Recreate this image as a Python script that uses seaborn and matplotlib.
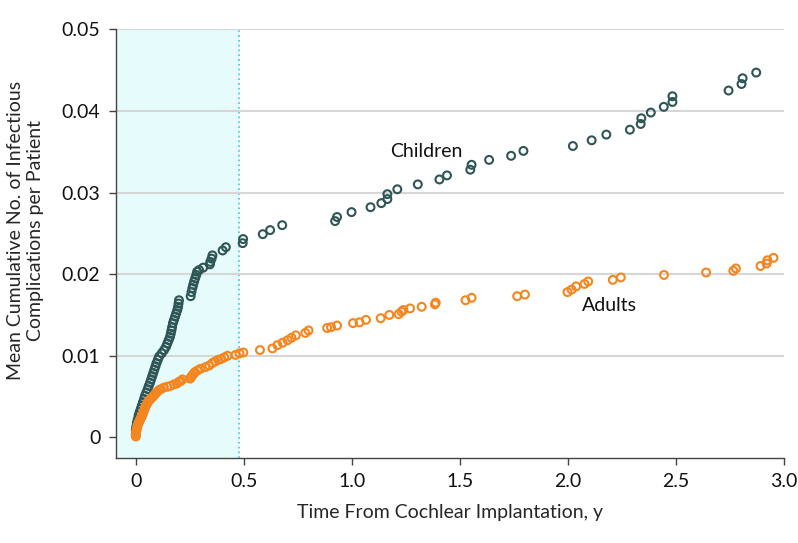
"""
Mean cumulative infectious complications after cochlear implantation
Children vs adults, first 3 years
"""

import pandas as pd
import matplotlib
matplotlib.use("Agg")
import matplotlib.pyplot as plt
import seaborn as sns

sns.set_style("ticks")
plt.rcParams['font.family'] = ['Lato', 'DejaVu Sans']
plt.rcParams['font.size'] = 14

# Children: years from implantation / mean cumulative events per patient
children_x = [0.000, 0.000, 0.002, 0.005, 0.009, 0.013, 0.018, 0.023, 0.028, 0.033,
              0.038, 0.043, 0.049, 0.055, 0.060, 0.066, 0.071, 0.076, 0.081, 0.086,
              0.091, 0.096, 0.102, 0.108, 0.120, 0.131, 0.140, 0.146, 0.152, 0.158,
              0.162, 0.165, 0.168, 0.172, 0.177, 0.182, 0.187, 0.192, 0.196, 0.198,
              0.200, 0.254, 0.258, 0.262, 0.266, 0.270, 0.275, 0.280, 0.284, 0.293,
              0.312, 0.343, 0.345, 0.351, 0.355, 0.402, 0.417, 0.495, 0.497, 0.588,
              0.622, 0.678, 0.923, 0.932, 0.999, 1.087, 1.137, 1.165, 1.165, 1.211,
              1.306, 1.406, 1.441, 1.549, 1.555, 1.636, 1.738, 1.795, 2.024, 2.111,
              2.179, 2.288, 2.338, 2.341, 2.385, 2.445, 2.485, 2.485, 2.745, 2.805,
              2.810, 2.873]
children_y = [0.0004, 0.0009, 0.0013, 0.0018, 0.0022, 0.0027, 0.0031, 0.0035, 0.0039, 0.0043,
              0.0047, 0.0051, 0.0055, 0.0059, 0.0063, 0.0067, 0.0071, 0.0075, 0.0079, 0.0083,
              0.0087, 0.0091, 0.0095, 0.0099, 0.0103, 0.0107, 0.0111, 0.0115, 0.0119, 0.0123,
              0.0127, 0.0131, 0.0135, 0.0140, 0.0144, 0.0148, 0.0152, 0.0156, 0.0160, 0.0164,
              0.0168, 0.0173, 0.0178, 0.0183, 0.0187, 0.0191, 0.0195, 0.0199, 0.0203, 0.0205,
              0.0208, 0.0212, 0.0215, 0.0219, 0.0223, 0.0229, 0.0233, 0.0238, 0.0243, 0.0249,
              0.0254, 0.0260, 0.0265, 0.0270, 0.0276, 0.0282, 0.0287, 0.0292, 0.0298, 0.0304,
              0.0310, 0.0316, 0.0321, 0.0328, 0.0334, 0.0340, 0.0345, 0.0351, 0.0357, 0.0364,
              0.0371, 0.0377, 0.0384, 0.0391, 0.0398, 0.0405, 0.0411, 0.0418, 0.0425, 0.0433,
              0.0440, 0.0447]

# Adults
adults_x = [0.000, 0.000, 0.001, 0.002, 0.003, 0.005, 0.007, 0.009, 0.012, 0.015,
            0.019, 0.022, 0.026, 0.030, 0.034, 0.038, 0.042, 0.046, 0.052, 0.058,
            0.065, 0.072, 0.080, 0.086, 0.093, 0.100, 0.108, 0.116, 0.130, 0.146,
            0.160, 0.177, 0.190, 0.200, 0.208, 0.216, 0.252, 0.256, 0.262, 0.268,
            0.274, 0.286, 0.300, 0.322, 0.340, 0.355, 0.368, 0.382, 0.395, 0.410,
            0.425, 0.462, 0.480, 0.498, 0.575, 0.633, 0.656, 0.680, 0.703, 0.721,
            0.741, 0.785, 0.800, 0.886, 0.904, 0.932, 1.006, 1.036, 1.066, 1.134,
            1.174, 1.217, 1.230, 1.239, 1.270, 1.324, 1.385, 1.389, 1.527, 1.555,
            1.766, 1.802, 1.999, 2.018, 2.039, 2.078, 2.095, 2.209, 2.246, 2.446,
            2.641, 2.767, 2.779, 2.893, 2.921, 2.925, 2.953]
adults_y = [0.0001, 0.0003, 0.0005, 0.0007, 0.0009, 0.0011, 0.0013, 0.0015, 0.0017, 0.0019,
            0.0021, 0.0023, 0.0025, 0.0027, 0.0030, 0.0033, 0.0036, 0.0038, 0.0041, 0.0044,
            0.0046, 0.0048, 0.0050, 0.0052, 0.0054, 0.0056, 0.0058, 0.0059, 0.0061, 0.0062,
            0.0063, 0.0065, 0.0066, 0.0068, 0.0069, 0.0071, 0.0072, 0.0074, 0.0076, 0.0078,
            0.0080, 0.0082, 0.0084, 0.0086, 0.0088, 0.0091, 0.0093, 0.0095, 0.0096, 0.0098,
            0.0100, 0.0101, 0.0103, 0.0104, 0.0107, 0.0109, 0.0113, 0.0116, 0.0119, 0.0122,
            0.0125, 0.0128, 0.0131, 0.0134, 0.0135, 0.0137, 0.0140, 0.0141, 0.0144, 0.0146,
            0.0150, 0.0151, 0.0154, 0.0156, 0.0158, 0.0160, 0.0163, 0.0165, 0.0168, 0.0171,
            0.0173, 0.0175, 0.0178, 0.0181, 0.0185, 0.0188, 0.0191, 0.0193, 0.0196, 0.0199,
            0.0202, 0.0204, 0.0207, 0.0210, 0.0213, 0.0217, 0.0220]

shade_end = 0.48
x_ticks = [0, 0.5, 1.0, 1.5, 2.0, 2.5, 3.0]
x_tick_labels = ['0', '0.5', '1.0', '1.5', '2.0', '2.5', '3.0']
y_ticks = [0, 0.01, 0.02, 0.03, 0.04, 0.05]
y_tick_labels = ['0', '0.01', '0.02', '0.03', '0.04', '0.05']

CHILD_COLOR = '#2f5656'
ADULT_COLOR = '#f5861f'

fig, ax = plt.subplots(figsize=(7.98, 5.43), dpi=100)
fig.subplots_adjust(left=0.145, right=0.982, bottom=0.157, top=0.946)

x_min, x_max = -0.093, 3.0
ax.set_xlim(x_min, x_max)
ax.set_ylim(-0.0025, 0.05)

# early period shading + dotted boundary
ax.axvspan(x_min, shade_end, color='#e6fbfb', zorder=0, lw=0)
ax.axvline(shade_end, color='#55ccd8', linestyle=':', lw=1.3, zorder=1)

for yt in y_ticks[1:]:
    ax.axhline(yt, color='#d6d6d6', lw=1.5, zorder=1)

sns.scatterplot(x=children_x, y=children_y, ax=ax, s=32, marker='o',
                facecolor='none', edgecolor=CHILD_COLOR, linewidth=1.5, zorder=3)
sns.scatterplot(x=adults_x, y=adults_y, ax=ax, s=32, marker='o',
                facecolor='none', edgecolor=ADULT_COLOR, linewidth=1.5, zorder=3)

ax.text(1.18, 0.0350, 'Children', fontsize=14, color='#111111', va='center', ha='left')
ax.text(2.067, 0.0161, 'Adults', fontsize=14, color='#111111', va='center', ha='left')

ax.set_xticks(x_ticks)
ax.set_xticklabels(x_tick_labels)
ax.set_yticks(y_ticks)
ax.set_yticklabels(y_tick_labels)
ax.tick_params(axis='both', direction='out', length=5, width=1, color='#444444',
               labelsize=14, labelcolor='#111111', pad=6)

ax.set_xlabel('Time From Cochlear Implantation, y', fontsize=14, labelpad=10)
ax.set_ylabel('Mean Cumulative No. of Infectious\nComplications per Patient', fontsize=14,
              linespacing=1.15)
ax.yaxis.set_label_coords(-0.108, 0.53)

sns.despine(ax=ax)
for side in ['left', 'bottom']:
    ax.spines[side].set_color('#444444')
    ax.spines[side].set_linewidth(1.0)

plt.savefig('out.png', dpi=100)
